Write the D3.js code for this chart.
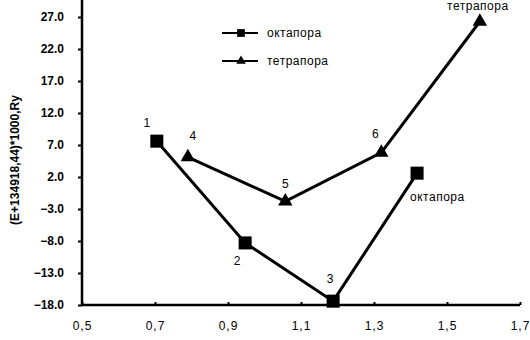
<!DOCTYPE html>
<html>
<head>
<meta charset="utf-8">
<script src="https://cdn.jsdelivr.net/npm/d3@7"></script>
<style>
  body { margin: 0; background: #fff; }
  text { font-family: "Liberation Sans", Arial, sans-serif; }
</style>
</head>
<body>
<div id="chart"></div>
<script>
// data
var octaX = [0.705, 0.947, 1.188, 1.418];
var octaY = [7.6, -8.3, -17.4, 2.6];
var octaLabels = ["1", "2", "3", ""];
var tetraX = [0.79, 1.057, 1.32, 1.59];
var tetraY = [5.1, -1.8, 5.8, 26.3];
var tetraLabels = ["4", "5", "6", ""];
var xTicks = [0.5, 0.7, 0.9, 1.1, 1.3, 1.5, 1.7];
var yTicks = [-18, -13, -8, -3, 2, 7, 12, 17, 22, 27];
var seriesNames = ["октапора", "тетрапора"];

var width = 530, height = 340;

var x = d3.scaleLinear().domain([0.5, 1.7]).range([82, 520]);
var y = d3.scaleLinear().domain([-18, 27]).range([305, 17]);

var svg = d3.select("#chart").append("svg")
    .attr("width", width)
    .attr("height", height);

// ////////// axes //////////
var yAxis = d3.axisLeft(y)
    .tickValues(yTicks)
    .tickSize(4)
    .tickFormat(function(d) { return d3.format(".1f")(d); });

var gy = svg.append("g")
    .attr("transform", "translate(" + x(0.5) + ",0)")
    .call(yAxis);
gy.select(".domain").attr("d", "M0," + y(-18) + "V0").attr("stroke-width", 2.5);
gy.selectAll(".tick line").attr("stroke-width", 2);
gy.selectAll(".tick text")
    .attr("x", -18)
    .style("font-size", "12px")
    .style("font-weight", "bold")
    .attr("fill", "#000");

var xAxis = d3.axisBottom(x)
    .tickValues(xTicks)
    .tickSize(-3)
    .tickFormat(function(d) { return d3.format(".1f")(d).replace(".", ","); });

var gx = svg.append("g")
    .attr("transform", "translate(0," + y(-18) + ")")
    .call(xAxis);
gx.select(".domain").attr("d", "M" + x(0.5) + ",0H" + x(1.7)).attr("stroke-width", 2.5);
gx.selectAll(".tick line").attr("stroke-width", 2);
gx.selectAll(".tick text")
    .attr("y", 16)
    .style("font-size", "12px")
    .style("letter-spacing", "1px")
    .attr("fill", "#000");

svg.append("text")
    .attr("transform", "translate(19,160) rotate(-90)")
    .attr("text-anchor", "middle")
    .style("font-size", "12px")
    .style("font-weight", "bold")
    .text("(E+134918,44)*1000,Ry");

// ////////// series //////////
var line = d3.line()
    .x(function(d) { return x(d[0]); })
    .y(function(d) { return y(d[1]); });

var octa = octaX.map(function(v, i) { return [v, octaY[i]]; });
var tetra = tetraX.map(function(v, i) { return [v, tetraY[i]]; });

svg.append("path").datum(octa)
    .attr("d", line).attr("fill", "none").attr("stroke", "#000").attr("stroke-width", 3);
svg.append("path").datum(tetra)
    .attr("d", line).attr("fill", "none").attr("stroke", "#000").attr("stroke-width", 3);

var square = d3.symbol().type(d3.symbolSquare).size(170);
var tri = d3.symbol().type(d3.symbolTriangle).size(90);

svg.selectAll("path.sq").data(octa).enter().append("path")
    .attr("class", "sq")
    .attr("transform", function(d) { return "translate(" + x(d[0]) + "," + y(d[1]) + ")"; })
    .attr("d", square);
svg.selectAll("path.tr").data(tetra).enter().append("path")
    .attr("class", "tr")
    .attr("transform", function(d) { return "translate(" + x(d[0]) + "," + y(d[1]) + ")"; })
    .attr("d", tri);

// point numbers
var octaOff = [[-10, -14], [-8, 22], [-3, -18], [0, 0]];
var tetraOff = [[5, -17], [0, -13], [-6, -15], [0, 0]];
svg.selectAll("text.on").data(octa).enter().append("text")
    .attr("x", function(d, i) { return x(d[0]) + octaOff[i][0]; })
    .attr("y", function(d, i) { return y(d[1]) + octaOff[i][1]; })
    .attr("text-anchor", "middle")
    .style("font-size", "12px")
    .text(function(d, i) { return octaLabels[i]; });
svg.selectAll("text.tn").data(tetra).enter().append("text")
    .attr("x", function(d, i) { return x(d[0]) + tetraOff[i][0]; })
    .attr("y", function(d, i) { return y(d[1]) + tetraOff[i][1]; })
    .attr("text-anchor", "middle")
    .style("font-size", "12px")
    .text(function(d, i) { return tetraLabels[i]; });

// series end labels
svg.append("text")
    .attr("x", x(tetraX[3]) - 2).attr("y", 10)
    .attr("text-anchor", "middle")
    .style("font-size", "12px")
    .style("letter-spacing", "0.5px")
    .text(seriesNames[1]);
svg.append("text")
    .attr("x", x(octaX[3]) - 7).attr("y", y(octaY[3]) + 28)
    .style("font-size", "12px")
    .style("letter-spacing", "0.5px")
    .text(seriesNames[0]);

// ////////// legend //////////
var legend = svg.append("g");
[[33, square], [61, tri]].forEach(function(r, i) {
    legend.append("line")
        .attr("x1", 222).attr("x2", 258).attr("y1", r[0]).attr("y2", r[0])
        .attr("stroke", "#000").attr("stroke-width", 2);
    legend.append("path")
        .attr("transform", "translate(241," + r[0] + ")")
        .attr("d", i === 0 ? d3.symbol().type(d3.symbolSquare).size(60)() : d3.symbol().type(d3.symbolTriangle).size(40)());
    legend.append("text")
        .attr("x", 267).attr("y", r[0] + 4)
        .style("font-size", "12px")
        .style("letter-spacing", "0.5px")
        .text(seriesNames[i]);
});
</script>
</body>
</html>
